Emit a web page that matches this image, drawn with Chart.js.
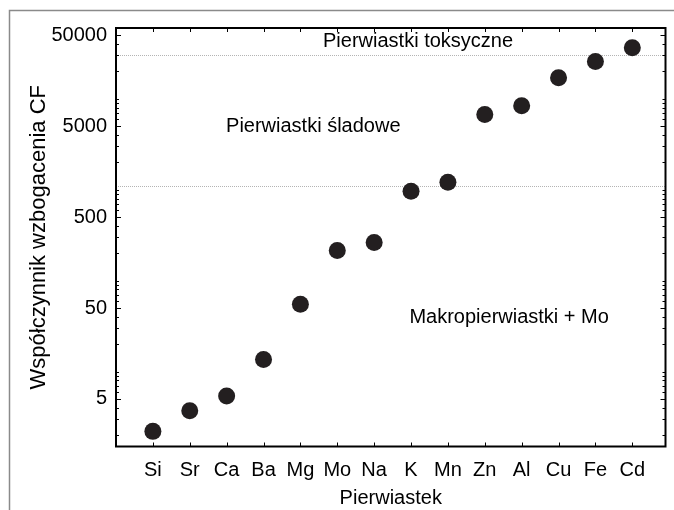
<!DOCTYPE html>
<html>
<head>
<meta charset="utf-8">
<script src="https://cdn.jsdelivr.net/npm/chart.js@4"></script>
<style>
  body { margin: 0; background: #fff; }
  canvas { display: block; }
</style>
</head>
<body>
<canvas id="cfChart" width="674" height="510"></canvas>
<script>
const categories = ['Si', 'Sr', 'Ca', 'Ba', 'Mg', 'Mo', 'Na', 'K', 'Mn', 'Zn', 'Al', 'Cu', 'Fe', 'Cd'];
const cfValues = [2.2, 3.7, 5.4, 13.6, 55, 215, 262, 960, 1210, 6700, 8400, 17000, 25700, 36300];
const yTicks = [5, 50, 500, 5000, 50000];
const zoneLimits = [1100, 30000];
const zoneNames = ['Makropierwiastki + Mo', 'Pierwiastki śladowe', 'Pierwiastki toksyczne'];
// where each zone name sits, in axis units (x, y)
const zoneNameAt = [[10.66, 39], [5.35, 5000], [8.19, 43000]];

const FONT = "'Liberation Sans', Arial, sans-serif";

/* frame, inside ticks, dotted zone lines and zone names */
const decorations = {
  id: 'decorations',
  beforeDraw(chart) {
    const ctx = chart.ctx;
    ctx.save();
    ctx.strokeStyle = '#8a8a8a';
    ctx.lineWidth = 1.5;
    ctx.beginPath();
    ctx.moveTo(9.5, 510);
    ctx.lineTo(9.5, 10.5);
    ctx.lineTo(674, 10.5);
    ctx.stroke();
    ctx.restore();
  },
  beforeDatasetsDraw(chart) {
    const { ctx, chartArea: a, scales: { y } } = chart;
    ctx.save();
    ctx.strokeStyle = '#b4b4b4';
    ctx.lineWidth = 1;
    ctx.setLineDash([1, 1]);
    zoneLimits.forEach(v => {
      const py = Math.round(y.getPixelForValue(v)) + 0.5;
      ctx.beginPath();
      ctx.moveTo(a.left, py);
      ctx.lineTo(a.right, py);
      ctx.stroke();
    });
    ctx.restore();
  },
  afterDatasetsDraw(chart) {
    const { ctx, chartArea: a, scales: { x, y } } = chart;
    ctx.save();
    ctx.strokeStyle = '#000';
    ctx.lineWidth = 1;
    // y ticks on left and right
    for (let e = 0; e <= 4; e++) {
      for (let k = 1; k <= 9; k++) {
        const v = k * Math.pow(10, e);
        if (v < y.min || v > y.max) continue;
        const py = Math.round(y.getPixelForValue(v)) + 0.5;
        const len = yTicks.includes(v) ? 5 : 3;
        ctx.beginPath();
        ctx.moveTo(a.left, py); ctx.lineTo(a.left + len, py);
        ctx.moveTo(a.right, py); ctx.lineTo(a.right - len, py);
        ctx.stroke();
      }
    }
    // x ticks on bottom and top
    categories.forEach((c, i) => {
      const px = Math.round(x.getPixelForValue(i + 1)) + 0.5;
      ctx.beginPath();
      ctx.moveTo(px, a.bottom); ctx.lineTo(px, a.bottom - 4);
      ctx.moveTo(px, a.top); ctx.lineTo(px, a.top + 4);
      ctx.stroke();
    });
    // box
    ctx.lineWidth = 2;
    ctx.strokeRect(a.left, a.top, a.right - a.left, a.bottom - a.top);
    // zone names
    ctx.fillStyle = '#000';
    ctx.font = '20px ' + FONT;
    ctx.textAlign = 'center';
    ctx.textBaseline = 'middle';
    zoneNames.forEach((t, i) => {
      ctx.fillText(t, x.getPixelForValue(zoneNameAt[i][0]), y.getPixelForValue(zoneNameAt[i][1]));
    });
    ctx.restore();
  }
};

const ctx = document.getElementById('cfChart');

new Chart(ctx, {
  type: 'scatter',
  data: {
    datasets: [{
      data: categories.map((c, i) => ({ x: i + 1, y: cfValues[i] })),
      backgroundColor: '#231f20',
      borderWidth: 0,
      pointRadius: 8.5,
      pointHoverRadius: 8.5
    }]
  },
  options: {
    responsive: false,
    animation: false,
    layout: { padding: { top: 28, right: 3, left: 0, bottom: 0 } },
    plugins: {
      legend: { display: false },
      tooltip: { enabled: false }
    },
    scales: {
      x: {
        type: 'linear',
        min: 0,
        max: 14.9,
        afterBuildTicks: s => { s.ticks = categories.map((c, i) => ({ value: i + 1 })); },
        afterFit: s => {
          s.height = 63.5;
          s.paddingLeft = 0;
          s.paddingRight = 0;
        },
        grid: { display: false, drawTicks: false },
        border: { display: false },
        ticks: {
          autoSkip: false,
          maxRotation: 0,
          padding: 12,
          color: '#000',
          font: { family: FONT, size: 20 },
          callback: v => categories[v - 1]
        },
        title: {
          display: true,
          text: 'Pierwiastek',
          color: '#000',
          font: { family: FONT, size: 20, lineHeight: 1 },
          padding: { top: 0, bottom: 2 }
        }
      },
      y: {
        type: 'logarithmic',
        min: 1.5,
        max: 60000,
        afterBuildTicks: s => { s.ticks = yTicks.map(v => ({ value: v })); },
        afterFit: s => {
          s.width = 116;
          s.paddingTop = 0;
          s.paddingBottom = 0;
        },
        grid: { display: false, drawTicks: false },
        border: { display: false },
        ticks: {
          padding: 9,
          color: '#000',
          font: { family: FONT, size: 20 },
          callback: v => String(v)
        },
        title: {
          display: true,
          text: 'Współczynnik wzbogacenia CF',
          color: '#000',
          font: { family: FONT, size: 22, lineHeight: 1 },
          padding: { top: 28, bottom: 0 }
        }
      }
    }
  },
  plugins: [decorations]
});
</script>
</body>
</html>
